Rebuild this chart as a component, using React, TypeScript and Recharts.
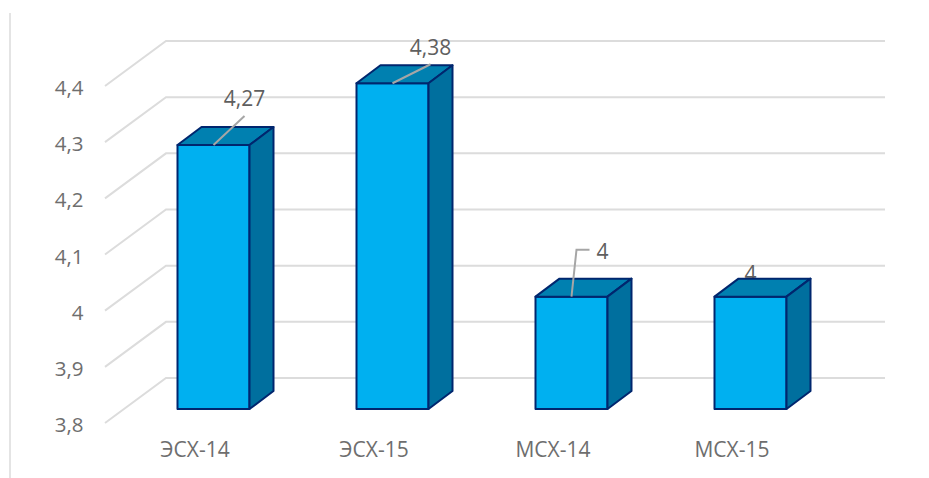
import React from "react";
import { BarChart, Bar, CartesianGrid, XAxis, YAxis, LabelList } from "recharts";

const categories = ["ЭСХ-14", "ЭСХ-15", "МСХ-14", "МСХ-15"];
const values = [4.27, 4.38, 4, 4];
const yTicks = [3.8, 3.9, 4, 4.1, 4.2, 4.3, 4.4];

const rows = categories.map((name, i) => ({ name, value: values[i] }));

const FONT = '"Open Sans", sans-serif';
const TEXT = "#6e6e6e";
const GRID = "#dcdcdc";
const EDGE = "#00266e";
const FRONT = "#00b0f0";
const TOP = "#0080b0";
const SIDE = "#006f9e";

// Oblique projection of the 3D plot
const BAR_DX = 24;
const BAR_DY = 18;
const WALL_DY = 31;
const FLOOR_DY = 14;
const FLOOR_X = 105;
const WALL_X = 166;
const WALL_END = 885;

const fmt = (v: number) => String(v).replace(".", ",");

// Leader line bends and label anchors, relative to the centre of each bar's front top edge
const leaders: { path: [number, number][]; lx: number; ly: number }[] = [
  { path: [[0, 0], [31, -29]], lx: 31, ly: -47 },
  { path: [[0, 0], [38, -19]], lx: 38, ly: -36 },
  { path: [[0, 0], [5, -47], [18, -47]], lx: 31, ly: -46 },
  { path: [], lx: 0, ly: -24 },
];

// One floor diagonal plus its run along the back wall
function WallLine({ y1 }: any) {
  return (
    <polyline
      points={`${FLOOR_X},${y1 + FLOOR_DY} ${WALL_X},${y1 - WALL_DY} ${WALL_END},${y1 - WALL_DY}`}
      fill="none"
      stroke={GRID}
      strokeWidth={2}
    />
  );
}

function ValueTick({ x, y, payload }: any) {
  return (
    <text x={x} y={y + 23} textAnchor="end" fontFamily={FONT} fontSize={20.5} fill={TEXT}>
      {fmt(payload.value)}
    </text>
  );
}

function CategoryTick({ x, y, payload }: any) {
  return (
    <text x={x - 18} y={y} textAnchor="middle" fontFamily={FONT} fontSize={21} fill={TEXT}>
      {payload.value}
    </text>
  );
}

function Box({ x, y, width, height, index }: any) {
  const r = x + width;
  const b = y + height;
  const cx = x + width / 2;
  const lead = leaders[index];
  return (
    <g strokeLinejoin="round">
      {lead.path.length === 0 && (
        <text x={cx + lead.lx} y={y + lead.ly} textAnchor="middle" dominantBaseline="central" fontFamily={FONT} fontSize={21} fill="#5f5f5f">
          {fmt(values[index])}
        </text>
      )}
      <rect x={x} y={y} width={width} height={height} fill={FRONT} stroke={EDGE} strokeWidth={2} />
      <polygon
        points={`${x},${y} ${x + BAR_DX},${y - BAR_DY} ${r + BAR_DX},${y - BAR_DY} ${r},${y}`}
        fill={TOP}
        stroke={EDGE}
        strokeWidth={2}
      />
      <polygon
        points={`${r},${y} ${r + BAR_DX},${y - BAR_DY} ${r + BAR_DX},${b - BAR_DY} ${r},${b}`}
        fill={SIDE}
        stroke={EDGE}
        strokeWidth={2}
      />
    </g>
  );
}

function LeaderLabel({ x, y, width, index }: any) {
  const lead = leaders[index];
  if (lead.path.length === 0) return null;
  const cx = x + width / 2;
  return (
    <g>
      <polyline
        points={lead.path.map(([dx, dy]) => `${cx + dx},${y + dy}`).join(" ")}
        fill="none"
        stroke="#a6a6a6"
        strokeWidth={2}
      />
      <text x={cx + lead.lx} y={y + lead.ly} textAnchor="middle" dominantBaseline="central" fontFamily={FONT} fontSize={21} fill="#5f5f5f">
        {fmt(values[index])}
      </text>
    </g>
  );
}

export default function App() {
  return (
    <div style={{ position: "absolute", left: 0, top: 0, width: 929, height: 478, background: "#fff" }}>
      <div style={{ position: "absolute", left: 9, top: 13, bottom: 0, width: 2, background: "#e4e4e4" }} />
      <BarChart
        width={929}
        height={478}
        data={rows}
        barSize={72}
        margin={{ top: 72, bottom: 0, left: 0, right: 89.5 }}
        style={{ position: "absolute", left: 0, top: 0 }}
      >
        <CartesianGrid vertical={false} horizontal={<WallLine />} syncWithTicks />
        <XAxis
          dataKey="name"
          axisLine={false}
          tickLine={false}
          tick={<CategoryTick />}
          tickMargin={42}
          height={69}
        />
        <YAxis
          domain={[3.8, 4.4]}
          ticks={yTicks}
          axisLine={false}
          tickLine={false}
          width={123.5}
          tick={<ValueTick />}
          tickMargin={34}
          interval={0}
        />
        <Bar dataKey="value" isAnimationActive={false} shape={<Box />}>
          <LabelList dataKey="value" content={<LeaderLabel />} />
        </Bar>
      </BarChart>
    </div>
  );
}
